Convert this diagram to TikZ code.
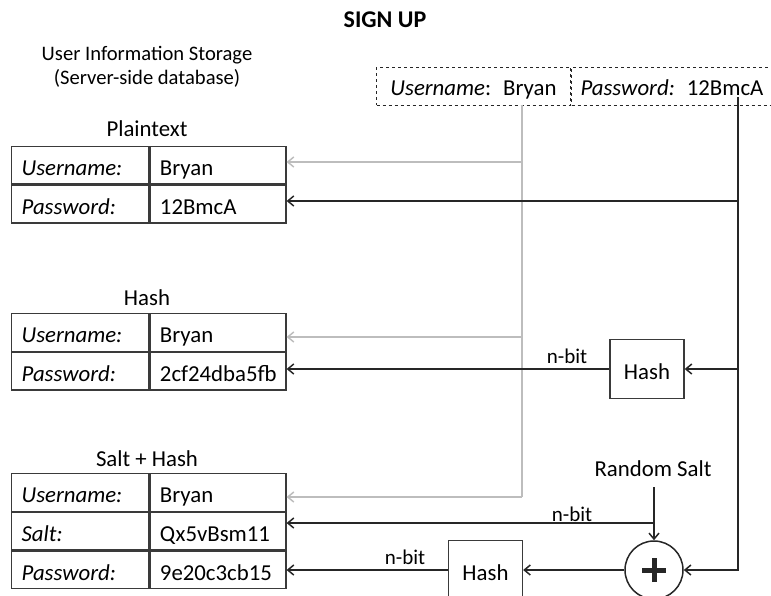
\documentclass[tikz,border=0pt]{standalone}
\usepackage{fontspec}
\setmainfont{Carlito}
\usetikzlibrary{arrows.meta}
\definecolor{inkline}{HTML}{262626}
\definecolor{greyline}{HTML}{BDBDBD}
\definecolor{frame}{HTML}{3A3A3A}
\newcommand{\bodyfont}{\fontsize{22.8}{27}\selectfont}
\newcommand{\headfont}{\fontsize{20.6}{24}\selectfont}
\newcommand{\smallfont}{\fontsize{21}{25}\selectfont}
\begin{document}
\begin{tikzpicture}[x=1pt,y=-1pt,
  tip/.tip={Straight Barb[length=6pt,width=10pt,line width=1.5pt]},
  lcell/.style={draw=frame, line width=1.3pt, minimum height=37.5pt, text width=117pt,
    text height=22pt, text depth=1pt,
    inner xsep=10pt, inner ysep=0pt, align=left, font=\bodyfont, anchor=north west},
  rcell/.style={lcell, text width=116pt},
  dbox/.style={draw=inkline, dashed, line width=1pt, minimum height=38pt, inner ysep=0pt,
    text height=19pt, text depth=1pt, font=\bodyfont, anchor=north west},
  hashbox/.style={draw=frame, line width=1.3pt, minimum width=74pt, minimum height=59pt,
    inner sep=0pt, text height=22pt, text depth=1pt, font=\bodyfont},
  bline/.style={draw=inkline, line width=1.5pt},
  barrow/.style={bline, -tip},
  gline/.style={draw=greyline, line width=1.5pt},
  garrow/.style={gline, -tip},
  label/.style={font=\bodyfont, anchor=base, inner sep=0pt},
  bitlabel/.style={font=\smallfont, anchor=base, inner sep=0pt}]
\useasboundingbox (0,0) rectangle (771,596);
\clip (0,0) rectangle (771,596);

% headings
\node[label, font=\fontsize{24}{28}\selectfont\bfseries] (title) at (385,28) {SIGN UP};
\node[label, font=\headfont] (store1) at (147,61) {User Information Storage};
\node[label, font=\headfont] (store2) at (147,85) {(Server-side database)};

% sign-up form (client side)
\node[dbox, minimum width=194pt, inner xsep=0pt] (uname) at (376,67) {\textit{Username}:\hspace{12pt}Bryan};
\node[dbox, text width=196pt, inner xsep=9pt, align=left, anchor=west] (pword) at (uname.east) {\textit{Password:}\hspace{12pt}12BmcA};

% plaintext table
\node[label] (plainlbl) at (147,137) {Plaintext};
\node[lcell] (pu) at (11,146) {\textit{Username:}};
\node[rcell] (puv) at (pu.north east) {Bryan};
\node[lcell] (pp) at (pu.south west) {\textit{Password:}};
\node[rcell] (ppv) at (pp.north east) {12BmcA};

% hash table
\node[label] (hashlbl) at (147,305) {Hash};
\node[lcell] (hu) at (11,313) {\textit{Username:}};
\node[rcell] (huv) at (hu.north east) {Bryan};
\node[lcell] (hp) at (hu.south west) {\textit{Password:}};
\node[rcell] (hpv) at (hp.north east) {2cf24dba5fb};

% salt + hash table
\node[label] (saltlbl) at (147,466) {Salt + Hash};
\node[lcell] (su) at (11,473) {\textit{Username:}};
\node[rcell] (suv) at (su.north east) {Bryan};
\node[lcell] (ss) at (su.south west) {\textit{Salt:}};
\node[rcell] (ssv) at (ss.north east) {Qx5vBsm11};
\node[lcell] (sp) at (ss.south west) {\textit{Password:}};
\node[rcell] (spv) at (sp.north east) {9e20c3cb15};

% processing blocks
\node[hashbox] (h1) at (647,369) {Hash};
\node[hashbox] (h2) at (485.5,570) {Hash};
\node[draw=inkline, line width=1.5pt, circle, minimum size=58pt, inner sep=0pt] (mix) at (654,570) {};
\draw[inkline, line width=5pt] ([xshift=-12pt]mix.center) -- ([xshift=12pt]mix.center);
\draw[inkline, line width=5pt] ([yshift=-12pt]mix.center) -- ([yshift=12pt]mix.center);
\node[label] (rsalt) at (653,476) {Random Salt};

% username path (grey)
\coordinate (gt) at (522,105);
\coordinate (g1) at (522,162);
\coordinate (g2) at (522,337);
\coordinate (g3) at (522,497);
\draw[gline] (gt) -- (g3);
\draw[garrow] (g1) -- (g1 -| puv.east);
\draw[garrow] (g2) -- (g2 -| huv.east);
\draw[garrow] (g3) -- (g3 -| suv.east);

% password path (black)
\coordinate (b0) at (738,97);
\coordinate (b1) at (738,201);
\coordinate (b2) at (738,369);
\coordinate (b3) at (738,570);
\draw[barrow] (b0) -- (b3) -- (mix.east);
\draw[barrow] (b1) -- (b1 -| ppv.east);
\draw[barrow] (b2) -- (h1.east);
\draw[barrow] (h1.west) -- (h1.west -| hpv.east);
\node[bitlabel] (bit1) at (567,363) {n-bit};

% salt path
\coordinate (s0) at (654,487);
\coordinate (s1) at (654,523);
\draw[barrow] (s0) -- (mix.north);
\draw[barrow] (s1) -- (s1 -| ssv.east);
\node[bitlabel] (bit2) at (572,521) {n-bit};
\draw[barrow] (mix.west) -- (h2.east);
\draw[barrow] (h2.west) -- (h2.west -| spv.east);
\node[bitlabel] (bit3) at (405,564) {n-bit};
\end{tikzpicture}
\end{document}
